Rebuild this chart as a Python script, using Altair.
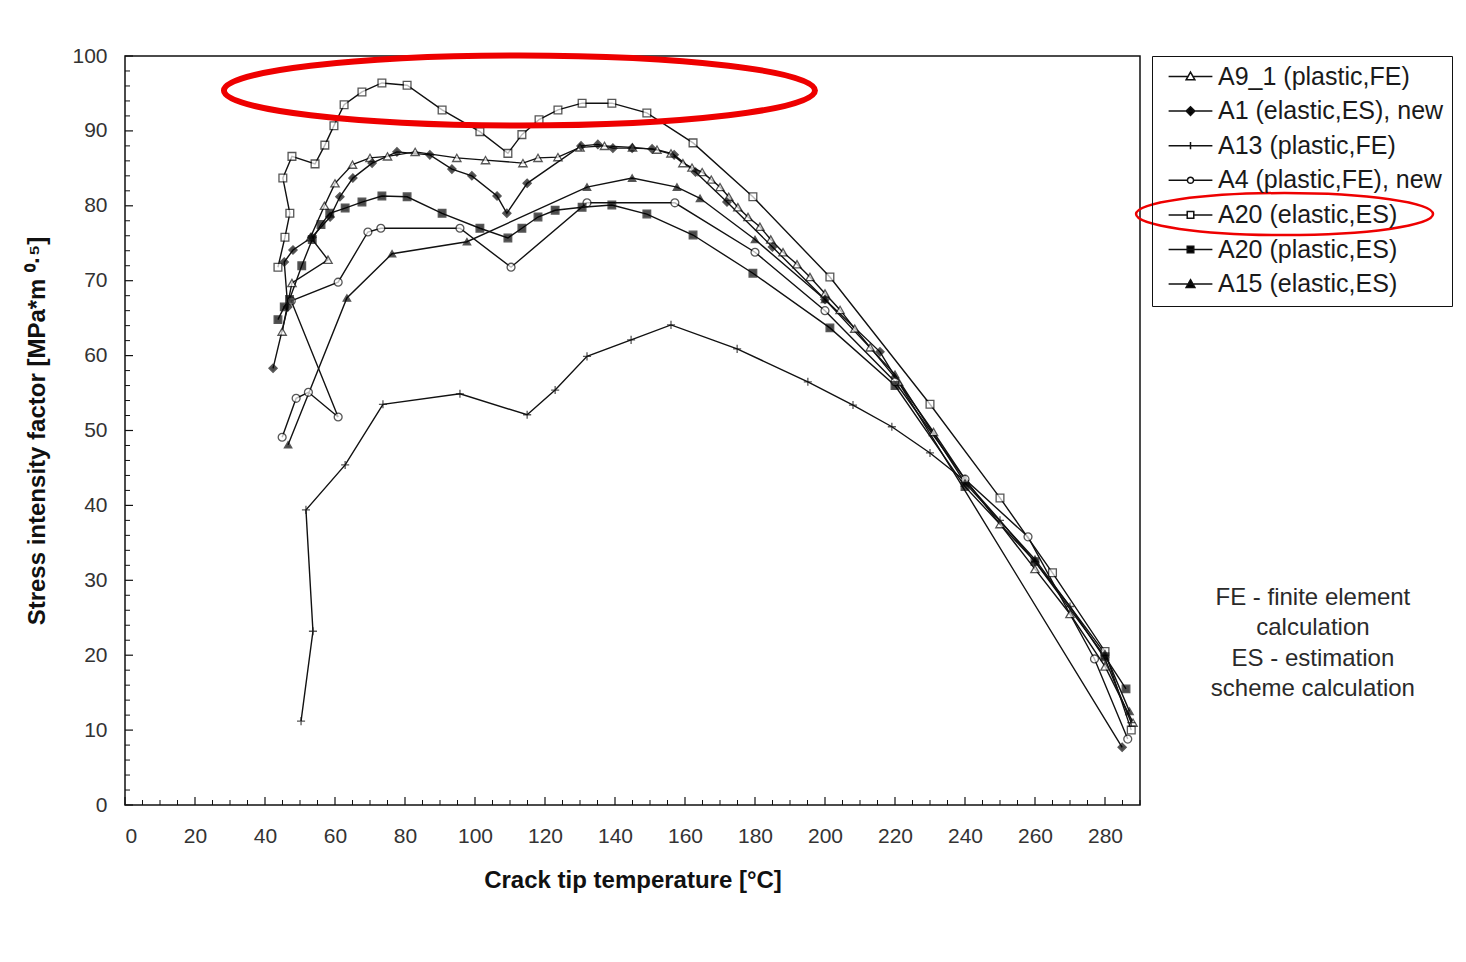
import altair as alt
import pandas as pd

# ---------------- data ----------------
series_names = [
    "A9_1 (plastic,FE)",
    "A1 (elastic,ES), new",
    "A13 (plastic,FE)",
    "A4 (plastic,FE), new",
    "A20 (elastic,ES)",
    "A20 (plastic,ES)",
    "A15 (elastic,ES)",
]

a9_x = [44.9, 47.7, 58.0, 53.0, 57.0, 60.0, 65.0, 70.0, 75.0, 82.9, 94.8, 103.0, 113.7, 118.0, 123.7,
        130.0, 137.0, 145.0, 152.0, 156.0, 159.4, 162.0, 164.9, 167.5, 170.0, 172.5, 175.1, 178.0,
        181.4, 184.5, 188.0, 192.0, 195.7, 200.0, 204.3, 208.5, 212.9, 221.0, 231.0, 240.0, 250.0,
        260.0, 270.0, 280.0, 288.0]
a9_y = [63.2, 69.7, 72.8, 75.8, 80.0, 83.0, 85.5, 86.4, 86.6, 87.2, 86.4, 86.1, 85.7, 86.4, 86.5,
        87.8, 88.0, 87.8, 87.5, 87.0, 85.7, 85.1, 84.5, 83.5, 82.5, 81.2, 79.8, 78.5,
        77.2, 75.5, 73.8, 72.2, 70.5, 68.3, 66.1, 63.6, 61.1, 56.5, 49.8, 43.5, 37.5,
        31.5, 25.5, 18.5, 11.0]

a1_x = [42.3, 46.5, 45.5, 48.0, 53.4, 58.6, 61.4, 65.1, 70.6, 77.7, 87.1, 93.4, 99.1, 106.3, 109.1,
        114.9, 130.3, 135.1, 139.4, 144.9, 150.6, 156.9, 163.0, 172.0, 185.0, 200.0, 215.7, 284.9]
a1_y = [58.3, 66.5, 72.5, 74.1, 75.8, 78.5, 81.2, 83.7, 85.7, 87.2, 86.8, 84.9, 84.0, 81.3, 79.0,
        83.0, 88.0, 88.2, 87.7, 87.7, 87.6, 86.8, 84.5, 80.5, 74.5, 67.5, 60.5, 7.7]

a13_x = [50.3, 53.7, 51.7, 62.9, 73.7, 95.7, 114.9, 122.9, 132.0, 144.6, 156.0, 174.9, 195.1, 208.0,
         219.1, 230.0, 240.0, 250.0, 260.0, 270.0, 280.0, 287.5]
a13_y = [11.2, 23.2, 39.4, 45.4, 53.5, 54.9, 52.1, 55.4, 59.9, 62.1, 64.1, 60.9, 56.5, 53.4,
         50.5, 47.0, 43.3, 38.0, 32.5, 26.5, 19.5, 11.0]

a4_x = [44.9, 48.9, 52.4, 60.9, 47.5, 60.9, 69.4, 73.1, 95.7, 110.3, 132.0, 157.1, 180.0, 200.0,
        220.0, 240.0, 258.0, 277.0, 286.5]
a4_y = [49.1, 54.3, 55.1, 51.8, 67.3, 69.8, 76.5, 77.0, 77.0, 71.8, 80.4, 80.4, 73.8, 66.0,
        56.5, 43.5, 35.8, 19.5, 8.8]

a20e_x = [43.7, 45.7, 47.1, 45.1, 47.7, 54.3, 57.1, 59.7, 62.6, 67.7, 73.4, 80.6, 90.6, 101.4, 109.4,
          113.4, 118.3, 123.7, 130.6, 139.1, 149.1, 162.3, 179.4, 201.4, 230.0, 250.0, 265.0, 280.0,
          287.5]
a20e_y = [71.8, 75.8, 79.0, 83.7, 86.6, 85.6, 88.1, 90.7, 93.5, 95.2, 96.4, 96.1, 92.8, 89.9, 87.0,
          89.5, 91.5, 92.8, 93.7, 93.7, 92.4, 88.4, 81.2, 70.5, 53.5, 41.0, 31.0, 20.5,
          10.0]

a20p_x = [43.7, 45.5, 47.0, 50.5, 53.5, 56.0, 58.5, 62.9, 67.7, 73.4, 80.6, 90.6, 101.4, 109.4, 113.4,
          118.0, 122.9, 130.6, 139.1, 149.1, 162.3, 179.4, 201.4, 220.0, 240.0, 260.0, 280.0, 286.0]
a20p_y = [64.8, 66.5, 67.5, 72.0, 75.5, 77.5, 79.0, 79.7, 80.5, 81.3, 81.2, 79.0, 77.0, 75.7, 77.0,
          78.5, 79.4, 79.8, 80.1, 78.9, 76.1, 71.0, 63.7, 56.0, 42.5, 32.5, 19.8, 15.5]

a15_x = [46.6, 63.4, 76.3, 97.7, 132.0, 144.9, 157.7, 164.3, 180.0, 200.0, 220.0, 240.0, 260.0,
         280.0, 287.0]
a15_y = [48.1, 67.7, 73.6, 75.2, 82.5, 83.7, 82.5, 81.0, 75.5, 67.5, 57.5, 43.0, 32.8,
         20.2, 12.5]

all_x = [a9_x, a1_x, a13_x, a4_x, a20e_x, a20p_x, a15_x]
all_y = [a9_y, a1_y, a13_y, a4_y, a20e_y, a20p_y, a15_y]

note_lines = ["FE - finite element", "calculation", "ES - estimation", "scheme calculation"]
note_x = [339.4, 339.4, 339.4, 339.4]
note_y = [27.6, 23.6, 19.5, 15.5]

# red highlight ellipses (centres in data units)
ell1_x, ell1_y = [112.7], [95.4]
ell2_x, ell2_y = [331.3], [78.9]

x_major = list(range(0, 281, 20))
x_minor = [v for v in range(0, 291, 5) if v % 20]
y_major = list(range(0, 101, 10))
y_minor = [v for v in range(0, 101, 2) if v % 10]

# ---------------- build tables ----------------
rows = []
for name, xs, ys in zip(series_names, all_x, all_y):
    for i, (xv, yv) in enumerate(zip(xs, ys)):
        rows.append({"series": name, "t": xv, "k": yv, "i": i})
df = pd.DataFrame(rows)

W, H = 1015, 749
FONT = "Liberation Sans"
INK = "#111111"

K = 0.5523


def ellipse(a, b):
    ca, cb = K * a, K * b
    return (f"M{a},0C{a},{cb} {ca},{b} 0,{b}C{-ca},{b} {-a},{cb} {-a},0"
            f"C{-a},{-cb} {-ca},{-b} 0,{-b}C{ca},{-b} {a},{-cb} {a},0Z")


plus = "M0,-1L0,1M-1,0L1,0"
plot_shapes = ["triangle-up", "diamond", plus, "circle", "square", "square", "triangle-up"]
plot_fills = ["white", "black", "black", "white", "white", "black", "black"]
plot_sizes = [70, 55, 80, 70, 70, 70, 70]
strokes = [INK] * 7

tri = "M0,-0.6L0.6,0.45L-0.6,0.45Z"
sq = "M-0.45,-0.45L0.45,-0.45L0.45,0.45L-0.45,0.45Z"
dia = "M0,-0.6L0.6,0L0,0.6L-0.6,0Z"
full = "M-3,0L3,0"


def split(a):
    return f"M-3,0L{-a},0M{a},0L3,0"


legend_shapes = [
    split(0.34) + tri,
    full + dia,
    full + "M0,-0.5L0,0.5",
    split(0.42) + ellipse(0.42, 0.42),
    split(0.45) + sq,
    full + sq,
    full + tri,
]

x_scale = alt.Scale(domain=[0, 290], nice=False, zero=False)
y_scale = alt.Scale(domain=[0, 100], nice=False, zero=False)

x_enc = alt.X("t:Q", scale=x_scale,
              axis=alt.Axis(values=x_major, title="Crack tip temperature [°C]", grid=False,
                            domain=False, ticks=False, labelPadding=20, titlePadding=22,
                            labelFontSize=21, titleFontSize=24, titleFontWeight="bold",
                            labelColor="#333333", titleColor=INK, labelFont=FONT, titleFont=FONT))
y_enc = alt.Y("k:Q", scale=y_scale,
              axis=alt.Axis(values=y_major, title="Stress intensity factor [MPa*m  ⁰·⁵]", grid=False,
                            domain=False, ticks=False, labelPadding=18, titlePadding=22,
                            labelFontSize=21, titleFontSize=24, titleFontWeight="bold",
                            labelColor="#333333", titleColor=INK, labelFont=FONT, titleFont=FONT))

lines = alt.Chart(df).mark_line(color=INK, strokeWidth=1.4).encode(
    x=x_enc, y=y_enc, detail="series:N", order="i:Q")

points = alt.Chart(df).mark_point(filled=True, stroke=INK, strokeWidth=1.3).encode(
    x="t:Q", y="k:Q",
    shape=alt.Shape("series:N", scale=alt.Scale(domain=series_names, range=plot_shapes), legend=None),
    fill=alt.Fill("series:N", scale=alt.Scale(domain=series_names, range=plot_fills), legend=None),
    size=alt.Size("series:N", scale=alt.Scale(domain=series_names, range=plot_sizes), legend=None),
)

leg = alt.Legend(title=None, orient="right", offset=12, padding=8, strokeColor=INK,
                 labelFontSize=25, labelFont=FONT, labelColor="#1a1a1a", rowPadding=8.6,
                 symbolSize=213, symbolOffset=18, labelOffset=15, symbolOpacity=1,
                 symbolStrokeColor=INK, symbolStrokeWidth=1.5, labelLimit=400)

legend_layer = alt.Chart(df).mark_point(filled=True, opacity=0, strokeWidth=1.5, size=213).encode(
    x="t:Q", y="k:Q",
    shape=alt.Shape("series:N", scale=alt.Scale(domain=series_names, range=legend_shapes), legend=leg),
    fill=alt.Fill("series:N", scale=alt.Scale(domain=series_names, range=plot_fills), legend=leg),
    stroke=alt.Stroke("series:N", scale=alt.Scale(domain=series_names, range=strokes), legend=leg),
)

# axis ticks pointing inward
xt_major = alt.Chart(pd.DataFrame({"t": x_major})).mark_rule(color=INK, strokeWidth=1.2).encode(
    x="t:Q", y=alt.value(H), y2=alt.value(H - 8))
xt_minor = alt.Chart(pd.DataFrame({"t": x_minor})).mark_rule(color=INK, strokeWidth=1).encode(
    x="t:Q", y=alt.value(H), y2=alt.value(H - 5))
yt_major = alt.Chart(pd.DataFrame({"k": y_major})).mark_rule(color=INK, strokeWidth=1.2).encode(
    y="k:Q", x=alt.value(0), x2=alt.value(8))
yt_minor = alt.Chart(pd.DataFrame({"k": y_minor})).mark_rule(color=INK, strokeWidth=1).encode(
    y="k:Q", x=alt.value(0), x2=alt.value(5))

notes = alt.Chart(pd.DataFrame({"t": note_x, "k": note_y, "txt": note_lines})).mark_text(
    fontSize=24, font=FONT, color="#2a2a2a", align="center", baseline="middle").encode(
    x="t:Q", y="k:Q", text="txt:N")

RED = "#ee0000"
e1 = alt.Chart(pd.DataFrame({"t": ell1_x, "k": ell1_y})).mark_point(
    shape=ellipse(1, 35 / 295.5), size=591 ** 2, filled=False, stroke=RED, strokeWidth=6, opacity=1).encode(
    x="t:Q", y="k:Q")
e2 = alt.Chart(pd.DataFrame({"t": ell2_x, "k": ell2_y})).mark_point(
    shape=ellipse(1, 21 / 148.5), size=297 ** 2, filled=False, stroke=RED, strokeWidth=2.5, opacity=1).encode(
    x="t:Q", y="k:Q")

chart = alt.layer(
    lines, xt_major, xt_minor, yt_major, yt_minor, points, legend_layer, notes, e1, e2
).resolve_scale(
    shape="independent", fill="independent", stroke="independent"
).properties(
    width=W, height=H,
    autosize=alt.AutoSizeParams(type="none"),
    padding={"left": 117, "top": 48, "right": 318, "bottom": 149},
    background="white",
).configure_view(stroke=INK, strokeWidth=1.5)

chart.save("out.html", embed_options={"renderer": "svg", "actions": False})
